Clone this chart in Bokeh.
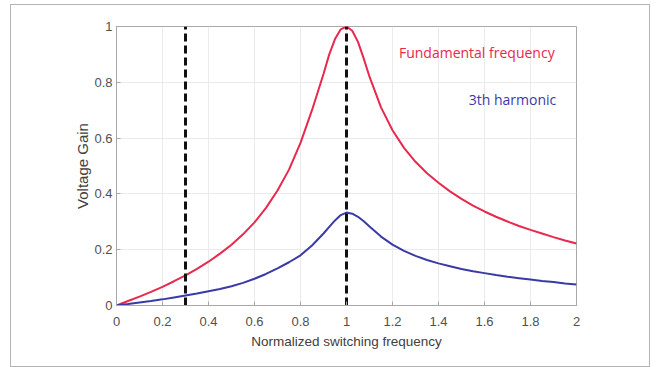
from bokeh.plotting import figure
from bokeh.models import ColumnDataSource, FixedTicker, Range1d
from bokeh.core.properties import value
from bokeh.embed import file_html
from bokeh.resources import INLINE

# Normalized switching frequency
freq = [0.00, 0.05, 0.10, 0.15, 0.20, 0.25, 0.30, 0.35, 0.40, 0.45,
        0.50, 0.55, 0.60, 0.65, 0.70, 0.75, 0.80, 0.85, 0.90, 0.925, 0.95, 0.975,
        1.00, 1.025, 1.05, 1.075, 1.10, 1.15, 1.20, 1.25, 1.30, 1.35, 1.40, 1.45,
        1.50, 1.55, 1.60, 1.65, 1.70, 1.75, 1.80, 1.85, 1.90, 1.95, 2.00]

# Voltage gain, fundamental frequency (red)
gain_fundamental = [0.000, 0.016, 0.032, 0.049, 0.067, 0.087, 0.108, 0.131, 0.157, 0.186,
                    0.218, 0.255, 0.298, 0.350, 0.412, 0.487, 0.583, 0.700, 0.830, 0.900, 0.955, 0.990,
                    1.000, 0.985, 0.945, 0.885, 0.820, 0.710, 0.628, 0.565, 0.515, 0.474, 0.440, 0.409,
                    0.382, 0.358, 0.337, 0.318, 0.301, 0.285, 0.271, 0.258, 0.245, 0.233, 0.222]

# Voltage gain, 3th harmonic (blue)
gain_third = [0.000, 0.005, 0.011, 0.016, 0.022, 0.029, 0.036, 0.043, 0.051, 0.059,
              0.069, 0.081, 0.096, 0.113, 0.133, 0.155, 0.180, 0.215, 0.258, 0.282, 0.305, 0.324,
              0.333, 0.329, 0.318, 0.302, 0.283, 0.247, 0.218, 0.196, 0.178, 0.163, 0.151, 0.141,
              0.131, 0.123, 0.116, 0.109, 0.103, 0.098, 0.093, 0.088, 0.084, 0.079, 0.075]

# Vertical dashed markers
marker_x = [0.3, 1.0]

x_ticks = [0, 0.2, 0.4, 0.6, 0.8, 1.0, 1.2, 1.4, 1.6, 1.8, 2.0]
y_ticks = [0, 0.2, 0.4, 0.6, 0.8, 1.0]
x_tick_labels = {0: "0", 0.2: "0.2", 0.4: "0.4", 0.6: "0.6", 0.8: "0.8", 1.0: "1",
                 1.2: "1.2", 1.4: "1.4", 1.6: "1.6", 1.8: "1.8", 2.0: "2"}
y_tick_labels = {0: "0", 0.2: "0.2", 0.4: "0.4", 0.6: "0.6", 0.8: "0.8", 1.0: "1"}

RED = "#e8284c"
BLUE = "#3a3aa6"
FONT = "Liberation Sans"

p = figure(width=640, height=363, output_backend="svg", toolbar_location=None,
           x_range=Range1d(0, 2), y_range=Range1d(0, 1),
           min_border_left=105, min_border_right=75, min_border_top=21, min_border_bottom=63)
p.styles = {"margin-left": "10px", "margin-top": "4px", "border": "1px solid #b4b4b4"}
p.background_fill_color = "white"
p.border_fill_color = "white"
p.outline_line_color = "#a8a8a8"
p.outline_line_width = 1

for ax in (p.xaxis[0], p.yaxis[0]):
    ax.axis_line_color = "#a8a8a8"
    ax.major_tick_line_color = "#a8a8a8"
    ax.major_tick_in = 4
    ax.major_tick_out = 0
    ax.minor_tick_line_color = None
    ax.major_label_text_font = FONT
    ax.major_label_text_font_size = "13px"
    ax.major_label_text_color = "#505050"
    ax.axis_label_text_font = FONT
    ax.axis_label_text_font_style = "normal"
    ax.axis_label_text_color = "#404040"

p.xaxis.axis_label_text_font_size = "13.5px"
p.yaxis.axis_label_text_font_size = "15px"
p.xaxis.ticker = FixedTicker(ticks=x_ticks)
p.yaxis.ticker = FixedTicker(ticks=y_ticks)
p.xaxis.major_label_overrides = x_tick_labels
p.yaxis.major_label_overrides = y_tick_labels
p.xaxis.axis_label = "Normalized switching frequency"
p.yaxis.axis_label = "Voltage Gain"
p.xaxis.major_label_standoff = 11
p.xaxis.axis_label_standoff = 5
p.yaxis.major_label_standoff = 4
p.yaxis.axis_label_standoff = 0

p.xgrid.ticker = FixedTicker(ticks=x_ticks)
p.ygrid.ticker = FixedTicker(ticks=y_ticks)
p.grid.grid_line_color = "#ebebeb"
p.grid.grid_line_width = 1

src = ColumnDataSource(dict(f=freq, g1=gain_fundamental, g3=gain_third))
p.line("f", "g1", source=src, line_color=RED, line_width=2)
p.line("f", "g3", source=src, line_color=BLUE, line_width=2)

msrc = ColumnDataSource(dict(x=marker_x, y0=[0] * len(marker_x), y1=[1] * len(marker_x)))
p.segment(x0="x", y0="y0", x1="x", y1="y1", source=msrc,
          line_color="#111111", line_width=3, line_dash="8 4")

p.text(x=[1.905], y=[0.907], text=["Fundamental frequency"], text_color=RED,
       text_font=value("Open Sans"), text_font_size="14px",
       text_align="right", text_baseline="middle")
p.text(x=[1.912], y=[0.738], text=["3th harmonic"], text_color=BLUE,
       text_font=value("Open Sans"), text_font_size="14px",
       text_align="right", text_baseline="middle")

open("out.html", "w").write(file_html(p, INLINE))
